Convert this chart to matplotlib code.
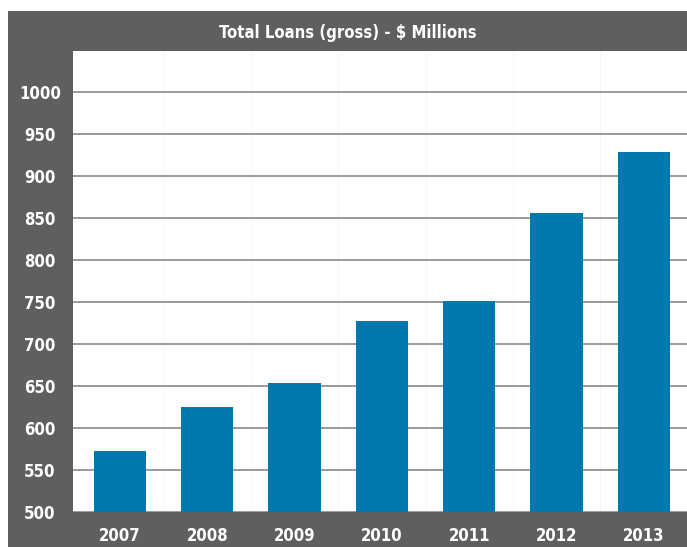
import matplotlib
matplotlib.use('Agg')
import matplotlib.pyplot as plt
from matplotlib.patches import Rectangle
import numpy as np

years = ['2007', '2008', '2009', '2010', '2011', '2012', '2013']
loans = [573, 625, 654, 727, 751, 856, 929]
y_ticks = [500, 550, 600, 650, 700, 750, 800, 850, 900, 950, 1000]

FRAME = '#5f5e60'
BAR = '#0077ad'
GRID = '#808080'

fig = plt.figure(figsize=(6.87, 5.47), dpi=100)
fig.patch.set_facecolor('white')

# dark frame behind the plot, white margin on left and top
fig.patches.append(Rectangle((8 / 687, 0), 1 - 8 / 687, 1 - 11 / 547,
                             transform=fig.transFigure, facecolor=FRAME,
                             edgecolor='none', zorder=-1))

ax = fig.add_axes([73 / 687, 35 / 547, 1 - 73 / 687, (512 - 51) / 547])
ax.set_zorder(2)
ax.set_facecolor('white')

x = np.arange(len(years))
ax.bar(x, loans, width=0.6, color=BAR, zorder=3)

ax.set_xlim(-0.538, 6.495)
ax.set_ylim(500, 1049)
ax.set_yticks(y_ticks)
ax.set_xticks(x)
ax.set_xticklabels(years)

ax.yaxis.grid(True, color=GRID, linewidth=1.1, zorder=1)
ax.set_xticks(x[:-1] + 0.5, minor=True)
ax.xaxis.grid(True, which='minor', color='#f6f6f6', linewidth=0.7, zorder=0)
ax.set_axisbelow(True)

for s in ax.spines.values():
    s.set_visible(False)

ax.tick_params(axis='both', which='both', length=0)
ax.tick_params(axis='y', pad=23.8)
ax.tick_params(axis='x', pad=10.5)
for lab in ax.get_yticklabels():
    lab.set_horizontalalignment('center')
for lab in ax.get_yticklabels() + ax.get_xticklabels():
    lab.set_family('DejaVu Sans')
    lab.set_stretch('condensed')
    lab.set_fontweight('bold')
    lab.set_fontsize(12)
    lab.set_color('white')

fig.text(348 / 687, 1 - 33 / 547, 'Total Loans (gross) - $ Millions',
         ha='center', va='center', color='white', fontsize=12,
         fontweight='bold', family='DejaVu Sans', stretch='condensed')

fig.savefig('out.png', dpi=100, facecolor='white')
